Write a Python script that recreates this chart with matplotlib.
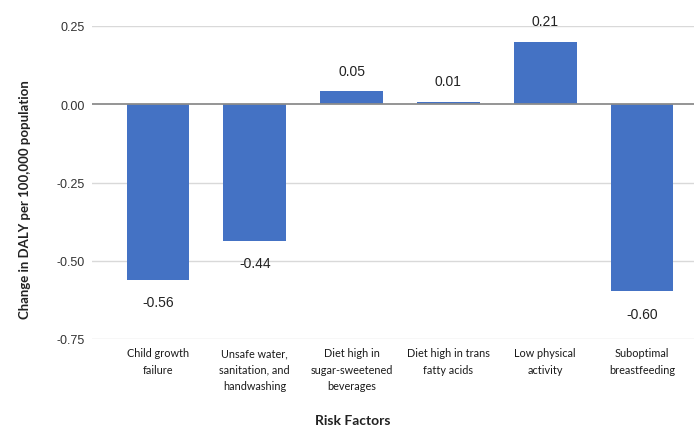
import matplotlib
matplotlib.use("Agg")
import matplotlib.pyplot as plt

categories = ["Child growth\nfailure", "Unsafe water,\nsanitation, and\nhandwashing",
              "Diet high in\nsugar-sweetened\nbeverages", "Diet high in trans\nfatty acids",
              "Low physical\nactivity", "Suboptimal\nbreastfeeding"]
values = [-0.56, -0.436, 0.041, 0.007, 0.2, -0.598]
value_labels = ["-0.56", "-0.44", "0.05", "0.01", "0.21", "-0.60"]
yticks = [-0.75, -0.50, -0.25, 0.00, 0.25]
ytick_labels = ["-0.75", "-0.50", "-0.25", "0.00", "0.25"]

fig = plt.figure(figsize=(6.94, 4.31), dpi=100)
ax = fig.add_axes([92/694, 1-340/431, (694-92)/694, (340-27)/431])

x = list(range(len(categories)))
ax.bar(x, values, width=0.65, color="#4472C4", zorder=3)
# category spacing ~96.8 px, first centre at ~158 px
ax.set_xlim(-(158-92)/96.8, 5 + (694-642)/96.8)
ax.set_ylim(-0.75, 0.25)
ax.set_yticks(yticks)
ax.set_yticklabels(ytick_labels, fontsize=9, family="Liberation Sans", color="#333333")
ax.set_xticks(x)
ax.set_xticklabels(categories, fontsize=7.8, family="Lato", color="#1a1a1a", linespacing=1.6)
ax.tick_params(axis="both", length=0)
ax.tick_params(axis="y", pad=5)
ax.tick_params(axis="x", pad=6)
for s in ax.spines.values():
    s.set_visible(False)
for t in yticks:
    if t != 0:
        ax.axhline(t, color="#d9d9d9", lw=1, zorder=1)
ax.axhline(0, color="#8c8c8c", lw=1.3, zorder=4)

for xi, v, lab in zip(x, values, value_labels):
    off = 15 if v >= 0 else -16
    ax.annotate(lab, (xi, v), xytext=(0, off), textcoords="offset points",
                ha="center", va="center", fontsize=10, family="Liberation Sans", color="#222222",
                annotation_clip=False)

fig.text(25/694, 1-200/431, "Change in DALY per 100,000 population", rotation=90,
         ha="center", va="center", fontsize=9.5, family="Lato", fontweight="bold", color="#222222")
fig.text(353/694, 1-421/431, "Risk Factors", ha="center", va="center",
         fontsize=10, family="Lato", fontweight="bold", color="#222222")

fig.savefig("out.png", dpi=100)
